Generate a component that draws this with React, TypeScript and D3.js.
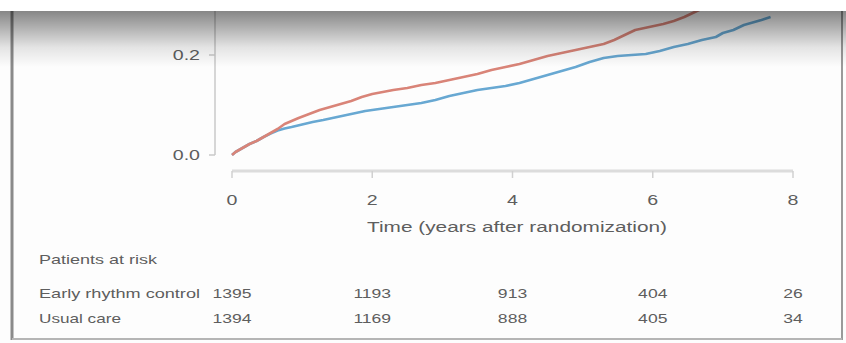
import { useEffect, useRef } from 'react'
import * as d3 from 'd3'

// cumulative incidence (years, proportion)
const earlyTimes = [0, 0.05, 0.15, 0.25, 0.35, 0.45, 0.55, 0.65, 0.75, 0.85, 0.95, 1.1, 1.25, 1.4, 1.55, 1.7, 1.85, 2.0, 2.15, 2.3, 2.5, 2.7, 2.9, 3.1, 3.3, 3.5, 3.7, 3.9, 4.1, 4.3, 4.5, 4.7, 4.9, 5.1, 5.3, 5.45, 5.6, 5.75, 5.95, 6.15, 6.3, 6.45, 6.6, 6.75, 6.9, 7.1, 7.3, 7.6]
const earlyValues = [0, 0.006, 0.014, 0.022, 0.028, 0.036, 0.044, 0.052, 0.062, 0.068, 0.074, 0.082, 0.09, 0.096, 0.102, 0.108, 0.116, 0.122, 0.126, 0.13, 0.134, 0.14, 0.144, 0.15, 0.156, 0.162, 0.17, 0.176, 0.182, 0.19, 0.198, 0.204, 0.21, 0.216, 0.222, 0.23, 0.24, 0.25, 0.256, 0.262, 0.268, 0.276, 0.286, 0.296, 0.306, 0.316, 0.328, 0.34]
const usualTimes = [0, 0.05, 0.15, 0.25, 0.35, 0.45, 0.55, 0.65, 0.75, 0.85, 1.0, 1.15, 1.3, 1.5, 1.7, 1.9, 2.1, 2.3, 2.5, 2.7, 2.9, 3.1, 3.3, 3.5, 3.7, 3.9, 4.1, 4.3, 4.5, 4.7, 4.9, 5.1, 5.3, 5.5, 5.7, 5.9, 6.1, 6.3, 6.5, 6.7, 6.9, 7.0, 7.15, 7.3, 7.45, 7.55, 7.68]
const usualValues = [0, 0.006, 0.014, 0.022, 0.028, 0.036, 0.043, 0.049, 0.053, 0.056, 0.061, 0.066, 0.07, 0.076, 0.082, 0.088, 0.092, 0.096, 0.1, 0.104, 0.11, 0.118, 0.124, 0.13, 0.134, 0.138, 0.144, 0.152, 0.16, 0.168, 0.176, 0.186, 0.194, 0.198, 0.2, 0.202, 0.208, 0.216, 0.222, 0.23, 0.236, 0.244, 0.25, 0.26, 0.266, 0.27, 0.276]

const xTicks = [0, 2, 4, 6, 8]
const yTicks = [0.0, 0.2]
const riskGroups = ['Early rhythm control', 'Usual care']
const riskEarly = [1395, 1193, 913, 404, 26]
const riskUsual = [1394, 1169, 888, 405, 34]

const W = 846
const H = 343
const TEXT = '#5e5e5e'
const FONT = '"Liberation Sans", Arial, sans-serif'

export default function App() {
  const svgRef = useRef<SVGSVGElement>(null)

  useEffect(() => {
    if (!svgRef.current) return
    const svg = d3.select(svgRef.current)
    svg.selectAll('*').remove()

    const x = d3.scaleLinear().domain([0, 8]).range([232, 793])
    const y = d3.scaleLinear().domain([0, 0.2]).range([155, 55])

    const defs = svg.append('defs')
    const grad = defs.append('linearGradient').attr('id', 'shade').attr('x1', 0).attr('x2', 0).attr('y1', 0).attr('y2', 1)
    grad.append('stop').attr('offset', 0).attr('stop-color', '#000').attr('stop-opacity', 0.47)
    grad.append('stop').attr('offset', 0.3).attr('stop-color', '#000').attr('stop-opacity', 0.3)
    grad.append('stop').attr('offset', 0.65).attr('stop-color', '#000').attr('stop-opacity', 0.1)
    grad.append('stop').attr('offset', 1).attr('stop-color', '#000').attr('stop-opacity', 0)
    defs.append('clipPath').attr('id', 'plotclip').append('rect').attr('x', 0).attr('y', 11).attr('width', W).attr('height', H)
    defs.append('filter').attr('id', 'soft').append('feGaussianBlur').attr('stdDeviation', 0.6)

    svg.append('rect').attr('width', W).attr('height', H).attr('fill', '#fdfdfd')

    // frame
    const frame = svg.append('g').attr('fill', 'none')
    frame.append('line').attr('x1', 12).attr('x2', 12).attr('y1', 11).attr('y2', 340).attr('stroke', '#8a8a8a').attr('stroke-width', 3)
    frame.append('line').attr('x1', 842).attr('x2', 842).attr('y1', 11).attr('y2', 340).attr('stroke', '#9a9a9a').attr('stroke-width', 2)
    frame.append('line').attr('x1', 12).attr('x2', 842).attr('y1', 339).attr('y2', 339).attr('stroke', '#b5b5b5').attr('stroke-width', 2)

    // y axis
    const yAx = svg.append('g').attr('clip-path', 'url(#plotclip)')
    yAx.append('line').attr('x1', 215).attr('x2', 215).attr('y1', 0).attr('y2', y(0)).attr('stroke', '#c8c8c8').attr('stroke-width', 1.5)
    yAx.selectAll('line.tk').data(yTicks).join('line').attr('class', 'tk')
      .attr('x1', 209).attr('x2', 215).attr('y1', d => y(d)).attr('y2', d => y(d))
      .attr('stroke', '#c8c8c8').attr('stroke-width', 1.5)
    yAx.selectAll('text').data(yTicks).join('text')
      .attr('transform', d => `translate(200,${y(d) + 5}) scale(1.4,1)`)
      .attr('text-anchor', 'end').attr('font-size', 14).attr('font-family', FONT).attr('fill', TEXT)
      .text(d => d3.format('.1f')(d))

    // x axis
    const xAx = svg.append('g')
    xAx.append('line').attr('x1', x(0)).attr('x2', x(8)).attr('y1', 171).attr('y2', 171).attr('stroke', '#dcdcdc').attr('stroke-width', 3)
    xAx.selectAll('line.tk').data(xTicks).join('line').attr('class', 'tk')
      .attr('x1', d => x(d)).attr('x2', d => x(d)).attr('y1', 171).attr('y2', 178)
      .attr('stroke', '#d0d0d0').attr('stroke-width', 1.5)
    xAx.selectAll('text').data(xTicks).join('text')
      .attr('transform', d => `translate(${x(d)},205) scale(1.4,1)`)
      .attr('text-anchor', 'middle').attr('font-size', 14).attr('font-family', FONT).attr('fill', TEXT)
      .text(d => String(d))
    xAx.append('text')
      .attr('x', 367).attr('y', 232).attr('textLength', 300).attr('lengthAdjust', 'spacingAndGlyphs')
      .attr('font-size', 14).attr('font-family', FONT).attr('fill', TEXT)
      .text('Time (years after randomization)')

    // curves
    const line = d3.line<[number, number]>().x(d => x(d[0])).y(d => y(d[1])).curve(d3.curveLinear)
    const curves = svg.append('g').attr('clip-path', 'url(#plotclip)').append('g')
      .attr('filter', 'url(#soft)').attr('fill', 'none').attr('stroke-width', 2.6).attr('stroke-linejoin', 'round')
    curves.append('path').attr('d', line(d3.zip(usualTimes, usualValues) as [number, number][])).attr('stroke', '#67a8d2')
    curves.append('path').attr('d', line(d3.zip(earlyTimes, earlyValues) as [number, number][])).attr('stroke', '#d98478')

    // patients at risk
    const risk = svg.append('g').attr('font-family', FONT).attr('fill', TEXT).attr('font-size', 13)
    risk.append('text').attr('x', 39).attr('y', 264).attr('textLength', 118).attr('lengthAdjust', 'spacingAndGlyphs').text('Patients at risk')
    const rowY = [298, 323]
    risk.append('text').attr('x', 39).attr('y', rowY[0]).attr('textLength', 161).attr('lengthAdjust', 'spacingAndGlyphs').text(riskGroups[0])
    risk.append('text').attr('x', 39).attr('y', rowY[1]).attr('textLength', 82).attr('lengthAdjust', 'spacingAndGlyphs').text(riskGroups[1])
    ;[riskEarly, riskUsual].forEach((row, i) => {
      risk.append('g').selectAll('text').data(row).join('text')
        .attr('transform', (_, j) => `translate(${x(xTicks[j])},${rowY[i]}) scale(1.35,1)`)
        .attr('text-anchor', 'middle')
        .text(d => String(d))
    })

    // dark fade at the top of the screenshot
    svg.append('rect').attr('x', 0).attr('y', 11).attr('width', W).attr('height', 56).attr('fill', 'url(#shade)')
    svg.append('rect').attr('x', 0).attr('y', 0).attr('width', W).attr('height', 11).attr('fill', '#ffffff')
  }, [])

  return <svg ref={svgRef} width={W} height={H} style={{ position: 'fixed', left: 0, top: 0 }} />
}
